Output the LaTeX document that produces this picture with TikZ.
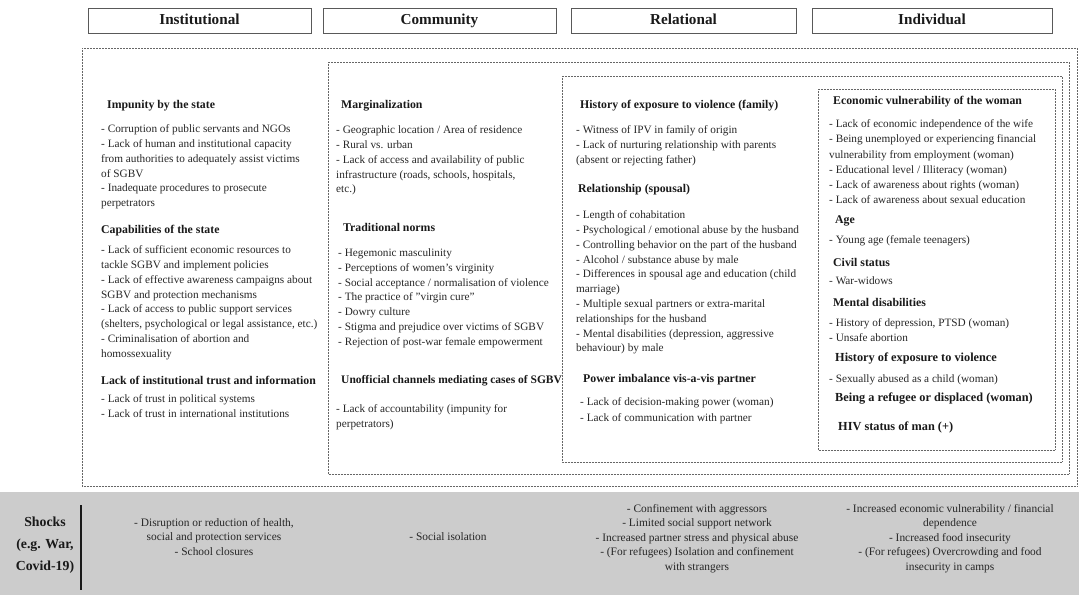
\documentclass[tikz,border=0pt]{standalone}
\usepackage{fontspec}
\setmainfont{Liberation Serif}
\begin{document}
\begin{tikzpicture}[x=1pt,y=-1pt,
  lvl/.style={draw=black!60,line width=0.7pt,dash pattern=on 0.75pt off 0.75pt},
  hdrbox/.style={draw=black!65,line width=0.9pt,minimum width=#1,minimum height=25pt,inner sep=0pt,text height=10.5pt,text depth=3pt,font=\bfseries\fontsize{15.2}{17}\selectfont,text=black!90},
  hd/.style={anchor=west,inner sep=0pt,font=\bfseries\fontsize{11.8}{14}\selectfont,text=black!90},
  it/.style={anchor=north west,inner sep=0pt,align=left,font=\fontsize{11.25}{14.8}\selectfont,text=black!85},
  sh/.style={inner sep=0pt,align=center,font=\fontsize{11.4}{14.4}\selectfont,text=black!85}]
\useasboundingbox (0,0) rectangle (1079,595);
% header boxes
\node[hdrbox=223pt] (hInst) at (199.5,20.5) {Institutional};
\node[hdrbox=233pt] (hComm) at (439.5,20.5) {Community};
\node[hdrbox=225pt] (hRel) at (683.5,20.5) {Relational};
\node[hdrbox=240pt] (hInd) at (932,20.5) {Individual};
% nested dotted level boxes
\draw[lvl] (82,48) rectangle (1077,486);
\draw[lvl] (328,62) rectangle (1069,474);
\draw[lvl] (562,76) rectangle (1062,462);
\draw[lvl] (818,89) rectangle (1055,450);
% Institutional
\node[hd] (i1h) at (107,106) {Impunity by the state};
\node[it] (i1) at (101,124.5) {- Corruption of public servants and NGOs\\- Lack of human and institutional capacity\\from authorities to adequately assist victims\\of SGBV\\- Inadequate procedures to prosecute\\perpetrators};
\node[hd] (i2h) at (101,231) {Capabilities of the state};
\node[it] (i2) at (101,245.5) {- Lack of sufficient economic resources to\\tackle SGBV and implement policies\\- Lack of effective awareness campaigns about\\SGBV and protection mechanisms\\- Lack of access to public support services\\(shelters, psychological or legal assistance, etc.)\\- Criminalisation of abortion and\\homossexuality};
\node[hd] (i3h) at (101,380) {Lack of institutional trust and information};
\node[it] (i3) at (101,394.5) {- Lack of trust in political systems\\- Lack of trust in international institutions};
% Community
\node[hd] (c1h) at (341,106) {Marginalization};
\node[it] (c1) at (336,125.5) {- Geographic location / Area of residence\\- Rural vs. urban\\- Lack of access and availability of public\\infrastructure (roads, schools, hospitals,\\etc.)};
\node[hd] (c2h) at (343,227) {Traditional norms};
\node[it] (c2) at (338,248.5) {- Hegemonic masculinity\\- Perceptions of women's virginity\\- Social acceptance / normalisation of violence\\- The practice of "virgin cure"\\- Dowry culture\\- Stigma and prejudice over victims of SGBV\\- Rejection of post-war female empowerment};
\node[hd,font=\bfseries\fontsize{11.5}{14}\selectfont] (c3h) at (341,381) {Unofficial channels mediating cases of SGBV};
\node[it] (c3) at (336,404.5) {- Lack of accountability (impunity for\\perpetrators)};
% Relational
\node[hd] (r1h) at (580,106) {History of exposure to violence (family)};
\node[it] (r1) at (576,125.5) {- Witness of IPV in family of origin\\- Lack of nurturing relationship with parents\\(absent or rejecting father)};
\node[hd] (r2h) at (578,190) {Relationship (spousal)};
\node[it] (r2) at (576,210.5) {- Length of cohabitation\\- Psychological / emotional abuse by the husband\\- Controlling behavior on the part of the husband\\- Alcohol / substance abuse by male\\- Differences in spousal age and education (child\\marriage)\\- Multiple sexual partners or extra-marital\\relationships for the husband\\- Mental disabilities (depression, aggressive\\behaviour) by male};
\node[hd] (r3h) at (583,380) {Power imbalance vis-a-vis partner};
\node[it,font=\fontsize{11.25}{16}\selectfont] (r3) at (580,397.5) {- Lack of decision-making power (woman)\\- Lack of communication with partner};
% Individual
\node[hd] (d1h) at (833,102) {Economic vulnerability of the woman};
\node[it,font=\fontsize{11.25}{15.2}\selectfont] (d1) at (829,119.5) {- Lack of economic independence of the wife\\- Being unemployed or experiencing financial\\vulnerability from employment (woman)\\- Educational level / Illiteracy (woman)\\- Lack of awareness about rights (woman)\\- Lack of awareness about sexual education};
\node[hd] (d2h) at (835,221) {Age};
\node[it] (d2) at (829,235.5) {- Young age (female teenagers)};
\node[hd] (d3h) at (833,262) {Civil status};
\node[it] (d3) at (829,276.5) {- War-widows};
\node[hd] (d4h) at (833,302) {Mental disabilities};
\node[it] (d4) at (829,318.5) {- History of depression, PTSD (woman)\\- Unsafe abortion};
\node[hd,font=\bfseries\fontsize{12.3}{14}\selectfont] (d5h) at (835,358) {History of exposure to violence};
\node[it] (d5) at (829,374.5) {- Sexually abused as a child (woman)};
\node[hd,font=\bfseries\fontsize{12.3}{14}\selectfont] (d6h) at (835,399) {Being a refugee or displaced (woman)};
\node[hd,font=\bfseries\fontsize{12.3}{14}\selectfont] (d7h) at (838,427) {HIV status of man (+)};
% Shocks band
\fill[black!20] (0,492) rectangle (1079,595);
\node[inner sep=0pt,align=center,font=\bfseries\fontsize{13.8}{22}\selectfont,text=black!90] (shk) at (45,545) {Shocks\\(e.g. War,\\Covid-19)};
\coordinate (sepT) at (81,505);
\coordinate (sepB) at (81,590);
\draw[line width=2pt,black!90] (sepT) -- (sepB);
\node[sh] (s1) at (214,537) {- Disruption or reduction of health,\\social and protection services\\- School closures};
\node[sh] (s2) at (448,537) {- Social isolation};
\node[sh] (s3) at (697,538.5) {- Confinement with aggressors\\- Limited social support network\\- Increased partner stress and physical abuse\\- (For refugees) Isolation and confinement\\with strangers};
\node[sh] (s4) at (950,538.5) {- Increased economic vulnerability / financial\\dependence\\- Increased food insecurity\\- (For refugees) Overcrowding and food\\insecurity in camps};
\end{tikzpicture}
\end{document}
